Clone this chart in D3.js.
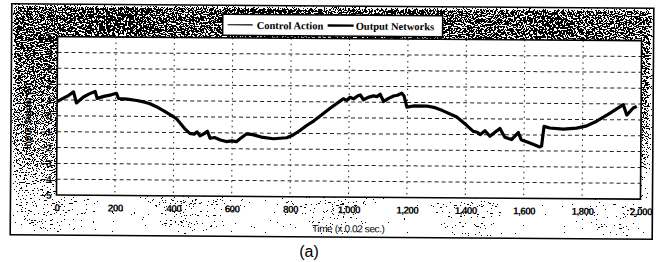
<!DOCTYPE html>
<html><head><meta charset="utf-8">
<script src="https://cdn.jsdelivr.net/npm/d3@7"></script>
<style>body{margin:0;background:#fff}svg{display:block}</style>
</head><body>
<svg id="c" width="663" height="262"></svg>
<script>
const timeSteps = [0, 20, 40, 56, 66, 90, 110, 130, 137, 160, 185, 203, 210, 240, 273, 300, 318, 340, 364, 390, 410, 440, 455, 470, 480, 490, 505, 515, 525, 540, 560, 580, 600, 615, 625, 650, 670, 700, 741, 787, 809, 830, 855, 880, 901, 935, 969, 980, 992, 1003, 1015, 1030, 1038, 1049, 1065, 1083, 1095, 1106, 1118, 1135, 1152, 1165, 1180, 1188, 1198, 1220, 1266, 1290, 1320, 1369, 1403, 1426, 1440, 1449, 1466, 1483, 1500, 1517, 1534, 1557, 1575, 1580, 1590, 1620, 1654, 1660, 1668, 1688, 1734, 1780, 1814, 1848, 1894, 1939, 1951, 1973, 1985];
const outputNetworks = [0.9, 1.1, 1.3, 1.52, 0.82, 1.2, 1.4, 1.55, 1.12, 1.25, 1.35, 1.45, 1.12, 1.08, 1.0, 0.9, 0.8, 0.62, 0.38, 0.1, -0.15, -0.8, -1.05, -1.1, -0.95, -1.2, -1.05, -0.9, -1.35, -1.3, -1.45, -1.55, -1.5, -1.55, -1.4, -1.05, -1.1, -1.25, -1.35, -1.28, -1.1, -0.85, -0.5, -0.2, 0.1, 0.6, 1.05, 1.2, 1.1, 1.3, 1.2, 1.4, 1.45, 1.15, 1.3, 1.4, 1.35, 1.5, 1.05, 1.25, 1.4, 1.45, 1.58, 1.4, 0.7, 0.78, 0.78, 0.7, 0.5, 0.1, -0.42, -0.8, -0.85, -1.0, -0.75, -1.1, -0.85, -0.6, -1.15, -1.3, -0.95, -0.85, -1.3, -1.5, -1.75, -1.7, -0.45, -0.55, -0.62, -0.55, -0.4, -0.1, 0.42, 0.95, 0.3, 0.75, 0.85];
const xTicks = [0, 200, 400, 600, 800, 1000, 1200, 1400, 1600, 1800, 2000];
const yTicks = [-5, -4, -3, -2, -1, 0, 1, 2, 3, 4, 5];
const seriesNames = ["Control Action", "Output Networks"];
const xTitle = "Time (x 0.02 sec.)";
const yTitle = "Input Signal (V)";
const caption = "(a)";

const svg = d3.select("#c");
const defs = svg.append("defs");
const grad = defs.append("linearGradient").attr("id", "fg").attr("x1", 0).attr("y1", 0).attr("x2", 0.1).attr("y2", 1);
grad.append("stop").attr("offset", "0%").attr("stop-color", "#555555");
grad.append("stop").attr("offset", "35%").attr("stop-color", "#7a7a7a");
grad.append("stop").attr("offset", "70%").attr("stop-color", "#acacac");
grad.append("stop").attr("offset", "100%").attr("stop-color", "#e8e8e8");
const f = defs.append("filter").attr("id", "dither").attr("x", 0).attr("y", 0).attr("width", 1).attr("height", 1)
  .attr("color-interpolation-filters", "sRGB");
f.append("feTurbulence").attr("type", "fractalNoise").attr("baseFrequency", 0.9).attr("numOctaves", 2).attr("seed", 7).attr("result", "n");
f.append("feColorMatrix").attr("in", "n").attr("type", "matrix")
  .attr("values", "1 0 0 0 0  1 0 0 0 0  1 0 0 0 0  0 0 0 0 1").attr("result", "g");
f.append("feGaussianBlur").attr("in", "g").attr("stdDeviation", 2).attr("result", "gb");
f.append("feComposite").attr("in", "g").attr("in2", "gb").attr("operator", "arithmetic")
  .attr("k1", 0).attr("k2", 4).attr("k3", -4).attr("k4", 0.5).attr("result", "hp");
f.append("feComposite").attr("in", "SourceGraphic").attr("in2", "hp").attr("operator", "arithmetic")
  .attr("k1", 0).attr("k2", 1).attr("k3", 1).attr("k4", -0.5).attr("result", "s");
const ct = f.append("feComponentTransfer").attr("in", "s");
["feFuncR", "feFuncG", "feFuncB"].forEach(t => ct.append(t).attr("type", "discrete").attr("tableValues", "0 1"));
ct.append("feFuncA").attr("type", "linear").attr("slope", 0).attr("intercept", 1);

const root = svg.append("g").attr("transform", "rotate(0.4,332,122)");

// frame
const frame = {x: 11, y: 6, w: 642, h: 231};
root.append("rect").attr("x", frame.x).attr("y", frame.y).attr("width", frame.w).attr("height", frame.h)
  .attr("fill", "url(#fg)").attr("filter", "url(#dither)");
root.append("rect").attr("x", frame.x).attr("y", frame.y).attr("width", frame.w).attr("height", frame.h)
  .attr("fill", "none").attr("stroke", "#000").attr("stroke-width", 1.6);

const m = {left: 57, right: 641, top: 38.5, bottom: 197};
const x = d3.scaleLinear().domain([0, 2000]).range([m.left, m.right]);
const y = d3.scaleLinear().domain([-5, 5]).range([m.bottom, m.top]);

root.append("rect").attr("x", m.left).attr("y", m.top).attr("width", m.right - m.left).attr("height", m.bottom - m.top)
  .attr("fill", "#fff");

// grid
root.append("g").selectAll("line").data(yTicks.filter(d => d > -5 && d < 5)).join("line")
  .attr("x1", m.left).attr("x2", m.right).attr("y1", d => y(d)).attr("y2", d => y(d))
  .attr("stroke", "#222").attr("stroke-width", 1).attr("stroke-dasharray", "4,3");
root.append("g").selectAll("line").data(xTicks.filter(d => d > 0 && d < 2000)).join("line")
  .attr("y1", m.top).attr("y2", m.bottom).attr("x1", d => x(d)).attr("x2", d => x(d))
  .attr("stroke", "#222").attr("stroke-width", 1).attr("stroke-dasharray", "1.5,4");

// axes
const xAxis = d3.axisBottom(x).tickValues(xTicks).tickSize(0).tickPadding(9).tickFormat(d3.format(","));
const gx = root.append("g").attr("transform", `translate(0,${m.bottom})`).call(xAxis);
gx.select(".domain").remove();
gx.selectAll("text").attr("font-family", "Liberation Sans, Arial, sans-serif").attr("font-size", 10).attr("font-weight", "bold").attr("fill", "#000").attr("letter-spacing", -0.6);
const yAxis = d3.axisLeft(y).tickValues(yTicks).tickSize(0).tickPadding(5).tickFormat(d3.format("d"));
const gy = root.append("g").attr("transform", `translate(${m.left},0)`).call(yAxis);
gy.select(".domain").remove();
gy.selectAll("text").attr("font-family", "Liberation Sans, Arial, sans-serif").attr("font-size", 10).attr("font-weight", "bold").attr("fill", "#000");

root.append("rect").attr("x", m.left).attr("y", m.top).attr("width", m.right - m.left).attr("height", m.bottom - m.top)
  .attr("fill", "none").attr("stroke", "#000").attr("stroke-width", 1.6);

// series
const pts = timeSteps.map((t, i) => [t, outputNetworks[i]]);
const line = d3.line().x(d => x(d[0])).y(d => y(d[1]));
root.append("path").datum(pts).attr("d", line).attr("fill", "none").attr("stroke", "#000")
  .attr("stroke-width", 3.2).attr("stroke-linejoin", "round");

// titles
root.append("text").attr("x", 349).attr("y", 232).attr("text-anchor", "middle")
  .attr("font-family", "Liberation Sans, Arial, sans-serif").attr("font-size", 10).attr("letter-spacing", -0.4).text(xTitle);
root.append("text").attr("transform", "translate(31,118) rotate(-90)").attr("text-anchor", "middle")
  .attr("font-family", "Liberation Sans, Arial, sans-serif").attr("font-size", 9).attr("font-weight", "bold").text(yTitle);

// legend
const lg = root.append("g");
lg.append("rect").attr("x", 222).attr("y", 15).attr("width", 220).attr("height", 21).attr("fill", "#fff")
  .attr("stroke", "#000").attr("stroke-width", 1.6);
const legendItems = [
  {name: seriesNames[0], x1: 227, x2: 252, tx: 256, w: 1.2},
  {name: seriesNames[1], x1: 327, x2: 353, tx: 355, w: 2.4}
];
legendItems.forEach(it => {
  lg.append("line").attr("x1", it.x1).attr("x2", it.x2).attr("y1", 25.5).attr("y2", 25.5).attr("stroke", "#000").attr("stroke-width", it.w);
  lg.append("text").attr("x", it.tx).attr("y", 29.5).attr("font-family", "Liberation Serif, Times New Roman, serif")
    .attr("font-size", 10.5).attr("font-weight", "bold").text(it.name);
});

svg.append("text").attr("x", 309).attr("y", 257).attr("text-anchor", "middle")
  .attr("font-family", "Liberation Sans, Arial, sans-serif").attr("font-size", 16).text(caption);
</script>
</body></html>
